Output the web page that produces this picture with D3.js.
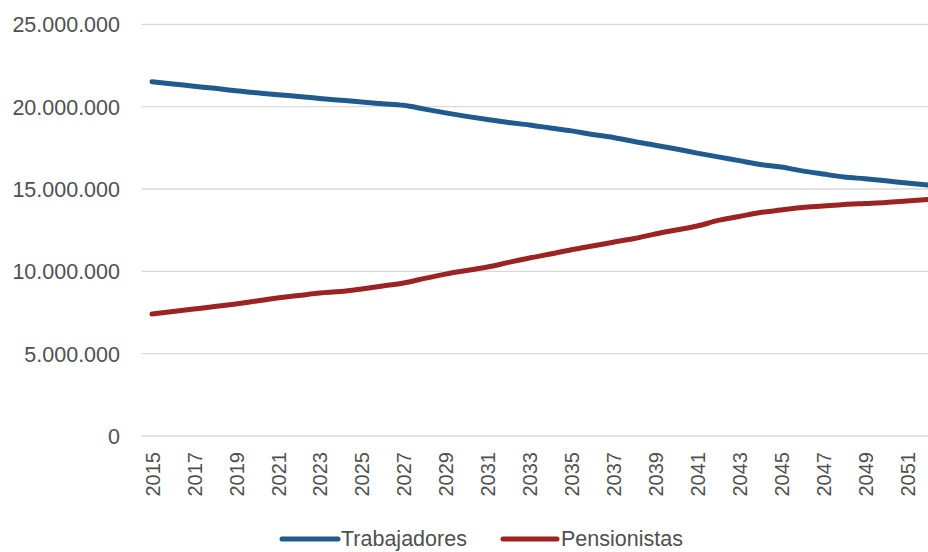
<!DOCTYPE html>
<html>
<head>
<meta charset="utf-8">
<script src="https://cdn.jsdelivr.net/npm/d3@7"></script>
<style>
  html, body { margin: 0; padding: 0; background: #fff; }
  svg { display: block; }
  text { font-family: "Liberation Sans", Arial, sans-serif; fill: #505050; }
</style>
</head>
<body>
<svg id="chart" width="928" height="552"></svg>
<script>
const years = [2015,2016,2017,2018,2019,2020,2021,2022,2023,2024,2025,2026,2027,2028,2029,2030,2031,2032,2033,2034,2035,2036,2037,2038,2039,2040,2041,2042,2043,2044,2045,2046,2047,2048,2049,2050,2051,2052];
const trabajadores = [21510000,21380000,21240000,21110000,20960000,20840000,20720000,20620000,20500000,20390000,20280000,20180000,20080000,19850000,19620000,19410000,19220000,19040000,18890000,18700000,18530000,18310000,18130000,17880000,17660000,17430000,17180000,16950000,16720000,16490000,16330000,16100000,15910000,15730000,15620000,15500000,15360000,15240000];
const pensionistas = [7410000,7560000,7710000,7860000,8020000,8200000,8380000,8530000,8680000,8770000,8930000,9110000,9290000,9570000,9830000,10050000,10260000,10540000,10810000,11050000,11310000,11540000,11770000,11990000,12270000,12510000,12750000,13090000,13330000,13570000,13720000,13880000,13970000,14060000,14120000,14180000,14270000,14360000];
const yTicks = [0,5000000,10000000,15000000,20000000,25000000];
const xTickLabels = years.filter((d,i) => i % 2 === 0);
const seriesNames = ["Trabajadores","Pensionistas"];
const seriesColors = ["#1f5b8e","#9b2321"];

const svg = d3.select("#chart");
const step = 20.97;
const x0 = 141.5;
const x = d3.scalePoint().domain(years).range([x0, x0 + years.length*step]).padding(0.5);
const y = d3.scaleLinear().domain([0, 25000000]).range([436, 24.3]);

const loc = d3.formatLocale({decimal: ",", thousands: ".", grouping: [3], currency: ["", ""]});
const fmt = loc.format(",d");

// gridlines
svg.append("g").selectAll("line").data(yTicks).join("line")
  .attr("x1", x0).attr("x2", 940)
  .attr("y1", d => y(d)).attr("y2", d => y(d))
  .attr("stroke", "#d9d9d9").attr("stroke-width", 1.3);

// y axis labels
const yAxis = d3.axisLeft(y).tickValues(yTicks).tickFormat(fmt).tickSize(0).tickPadding(0);
const gy = svg.append("g").attr("transform", "translate(120,0)").call(yAxis);
gy.select(".domain").remove();
gy.selectAll("text").attr("font-size", 21.5).attr("fill", "#4a4a4a")
  .style("font-family", "'Liberation Sans', Arial, sans-serif").attr("dy", "0.35em");

// x axis labels
const xAxis = d3.axisBottom(x).tickValues(xTickLabels).tickSize(0).tickPadding(0);
const gx = svg.append("g").attr("transform", "translate(0,452)").call(xAxis);
gx.select(".domain").remove();
gx.selectAll("text")
  .attr("font-size", 20).attr("fill", "#4a4a4a")
  .style("font-family", "'Liberation Sans', Arial, sans-serif")
  .attr("text-anchor", "end")
  .attr("transform", "rotate(-90)")
  .attr("x", 0).attr("y", 0).attr("dx", 0).attr("dy", "0.36em");

// lines
const line = d3.line().x((d,i) => x(years[i])).y(d => y(d)).curve(d3.curveMonotoneX);
[trabajadores, pensionistas].forEach((s, k) => {
  svg.append("path").datum(s)
    .attr("d", line)
    .attr("fill", "none")
    .attr("stroke", seriesColors[k])
    .attr("stroke-width", 5)
    .attr("stroke-linejoin", "round")
    .attr("stroke-linecap", "round");
});

// legend
const legendItems = [{x1: 282, x2: 338, tx: 341}, {x1: 503, x2: 557, tx: 561}];
const lg = svg.append("g");
seriesNames.forEach((n, k) => {
  const it = legendItems[k];
  lg.append("line").attr("x1", it.x1).attr("x2", it.x2).attr("y1", 539).attr("y2", 539)
    .attr("stroke", seriesColors[k]).attr("stroke-width", 5).attr("stroke-linecap", "round");
  lg.append("text").attr("x", it.tx).attr("y", 539).attr("dy", "0.33em")
    .attr("font-size", 21.5).attr("fill", "#4a4a4a").text(n);
});
</script>
</body>
</html>
